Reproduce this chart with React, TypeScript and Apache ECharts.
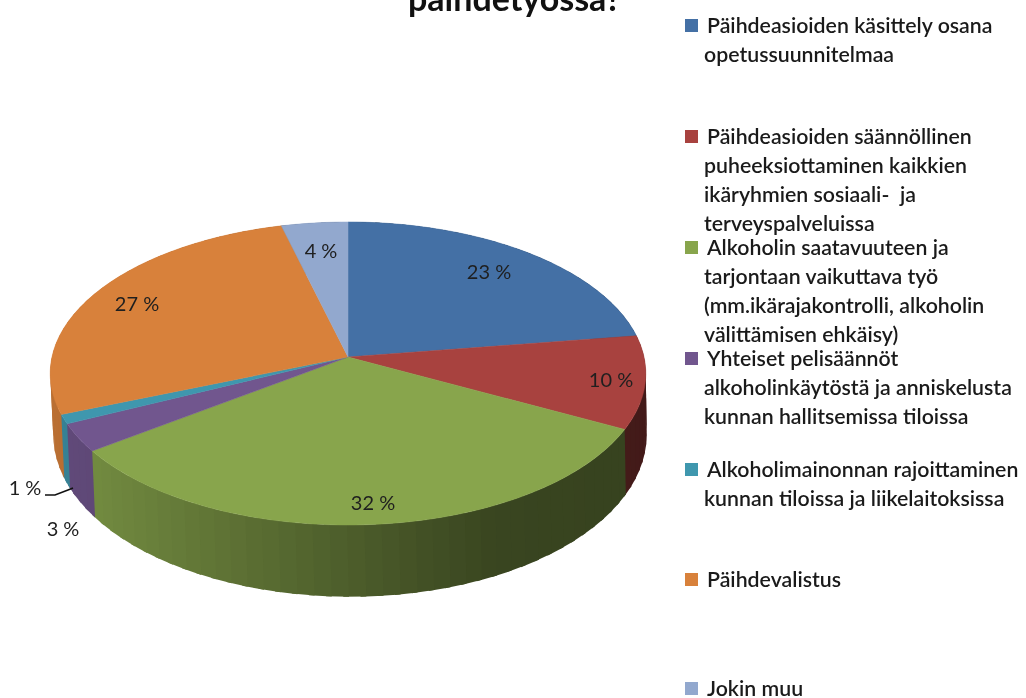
import React, { useEffect, useRef } from "react";
import * as echarts from "echarts";

const titleText = "päihdetyössä?";
const categories = [
  "Päihdeasioiden käsittely osana opetussuunnitelmaa",
  "Päihdeasioiden säännöllinen puheeksiottaminen kaikkien ikäryhmien sosiaali- ja terveyspalveluissa",
  "Alkoholin saatavuuteen ja tarjontaan vaikuttava työ (mm.ikärajakontrolli, alkoholin välittämisen ehkäisy)",
  "Yhteiset pelisäännöt alkoholinkäytöstä ja anniskelusta kunnan hallitsemissa tiloissa",
  "Alkoholimainonnan rajoittaminen kunnan tiloissa ja liikelaitoksissa",
  "Päihdevalistus",
  "Jokin muu",
];
const values = [22.7, 9.9, 32.4, 3, 1, 27, 4];
const colors = ["#4470a5", "#a8423f", "#88a54c", "#71568e", "#3f97ae", "#d8813b", "#92a8ce"];
const legendLines = [
  ["Päihdeasioiden käsittely osana", "opetussuunnitelmaa"],
  ["Päihdeasioiden säännöllinen", "puheeksiottaminen kaikkien", "ikäryhmien sosiaali-  ja", "terveyspalveluissa"],
  ["Alkoholin saatavuuteen ja", "tarjontaan vaikuttava työ", "(mm.ikärajakontrolli, alkoholin", "välittämisen ehkäisy)"],
  ["Yhteiset pelisäännöt", "alkoholinkäytöstä ja anniskelusta", "kunnan hallitsemissa tiloissa"],
  ["Alkoholimainonnan rajoittaminen", "kunnan tiloissa ja liikelaitoksissa"],
  ["Päihdevalistus"],
  ["Jokin muu"],
];

// layout only
const legendTops = [25, 136, 247, 358, 469, 579, 688];
const legendStep = 28.9;
const labelAnchors = [[489, 271], [611, 379], [373, 502], [63, 528], [25, 487], [137, 303], [321, 250]];
const CX = 348, CY = 357, R = 296, B = 149.7, K = 0.1088;
const BASE_CX = 350, BASE_DROP = 60, BASE_R = 295, BASE_B = 160.2;
const FONT = "Lato";

const total = values.reduce((a, b) => a + b, 0);
const cumulative = values.map((_, i) => values.slice(0, i).reduce((a, b) => a + b, 0));

function project(deg: number, base: boolean): number[] {
  const t = (deg * Math.PI) / 180;
  const u = Math.sin(t), v = -Math.cos(t);
  const s = 1 / (1 - K * v);
  return base
    ? [BASE_CX + BASE_R * u * s, CY + BASE_DROP + BASE_B * v * s]
    : [CX + R * u * s, CY + B * v * s];
}
function sweep(a0: number, a1: number, step: number): number[] {
  const n = Math.max(2, Math.ceil(Math.abs(a1 - a0) / step));
  const out: number[] = [];
  for (let i = 0; i <= n; i++) out.push(a0 + ((a1 - a0) * i) / n);
  return out;
}
function sideShade(x: number): number {
  const stops = [[51, 0.86], [95, 0.84], [350, 0.57], [500, 0.42], [648, 0.4]];
  for (let i = 1; i < stops.length; i++) {
    if (x <= stops[i][0]) {
      const f = (x - stops[i - 1][0]) / (stops[i][0] - stops[i - 1][0]);
      return stops[i - 1][1] + (stops[i][1] - stops[i - 1][1]) * Math.max(0, f);
    }
  }
  return 0.4;
}
function shade(hex: string, f: number): string {
  const n = parseInt(hex.slice(1), 16);
  const c = [(n >> 16) & 255, (n >> 8) & 255, n & 255].map((x) => Math.round(x * f));
  return `rgb(${c[0]},${c[1]},${c[2]})`;
}
function angles(i: number, val: number): number[] {
  const a0 = (cumulative[i] / total) * 360;
  return [a0, a0 + (val / total) * 360];
}

export default function App() {
  const ref = useRef<HTMLDivElement>(null);
  useEffect(() => {
    const chart = echarts.init(ref.current!, undefined, { renderer: "svg" });
    const data = values.map((v, i) => ({ name: categories[i], value: [v] }));
    const legendGraphics: any[] = [];
    legendLines.forEach((lines, i) => {
      legendGraphics.push({
        type: "rect",
        shape: { x: 685, y: legendTops[i] - 6, width: 13, height: 13 },
        style: { fill: colors[i] },
      });
      lines.forEach((line, j) => {
        legendGraphics.push({
          type: "text",
          x: j === 0 ? 707 : 704,
          y: legendTops[i] + j * legendStep,
          style: {
            text: line,
            fill: "#1a1a1a",
            font: `600 21.3px ${FONT}`,
            lineHeight: 20,
            textVerticalAlign: "middle",
          },
        });
      });
    });
    chart.setOption({
      animation: false,
      backgroundColor: "#ffffff",
      title: {
        text: titleText,
        left: 408,
        top: -20,
        padding: 0,
        textStyle: { fontFamily: FONT, fontSize: 34, fontWeight: 700, color: "#111111" },
      },
      graphic: [
        ...legendGraphics,
        {
          type: "polyline",
          z: 20,
          shape: { points: [[45, 495], [55, 495], [68, 490], [73, 488]] },
          style: { stroke: "#111111", lineWidth: 1.6, fill: "none" },
        },
      ],
      series: [
        {
          type: "custom",
          coordinateSystem: "none",
          z: 1,
          silent: true,
          data,
          renderItem: (params: any, api: any) => {
            const i = params.dataIndex;
            const [a0, a1] = angles(i, api.value(0));
            const steps = sweep(a0, a1, 3);
            const children: any[] = [];
            for (let k = 0; k < steps.length - 1; k++) {
              // each band runs a little into the next one, so that no seam shows
              const end = steps[k + 1] + 1;
              const p0 = project(steps[k], false), p1 = project(end, false);
              const q0 = project(steps[k], true), q1 = project(end, true);
              children.push({
                type: "polygon",
                shape: { points: [p0, p1, q1, q0] },
                style: { fill: shade(colors[i], sideShade(p0[0])) },
              });
            }
            return { type: "group", children };
          },
        },
        {
          type: "custom",
          coordinateSystem: "none",
          z: 2,
          silent: true,
          data,
          renderItem: (params: any, api: any) => {
            const i = params.dataIndex;
            const val = api.value(0);
            const [a0, a1] = angles(i, val);
            const rim = sweep(a0, a1, 1.5).map((a) => project(a, false));
            return {
              type: "group",
              children: [
                {
                  type: "polygon",
                  shape: { points: [[CX, CY], ...rim] },
                  style: { fill: colors[i], stroke: colors[i], lineWidth: 0.5 },
                },
                {
                  type: "text",
                  z2: 10,
                  x: labelAnchors[i][0],
                  y: labelAnchors[i][1],
                  style: {
                    text: `${Math.round(val)} %`,
                    fill: "#1f1f1f",
                    font: `20px ${FONT}`,
                    textAlign: "center",
                    textVerticalAlign: "middle",
                  },
                },
              ],
            };
          },
        },
      ],
    });
    return () => chart.dispose();
  }, []);
  return (
    <div
      ref={ref}
      style={{ position: "fixed", left: 0, top: 0, width: 1026, height: 698, filter: "blur(0.6px)" }}
    />
  );
}
